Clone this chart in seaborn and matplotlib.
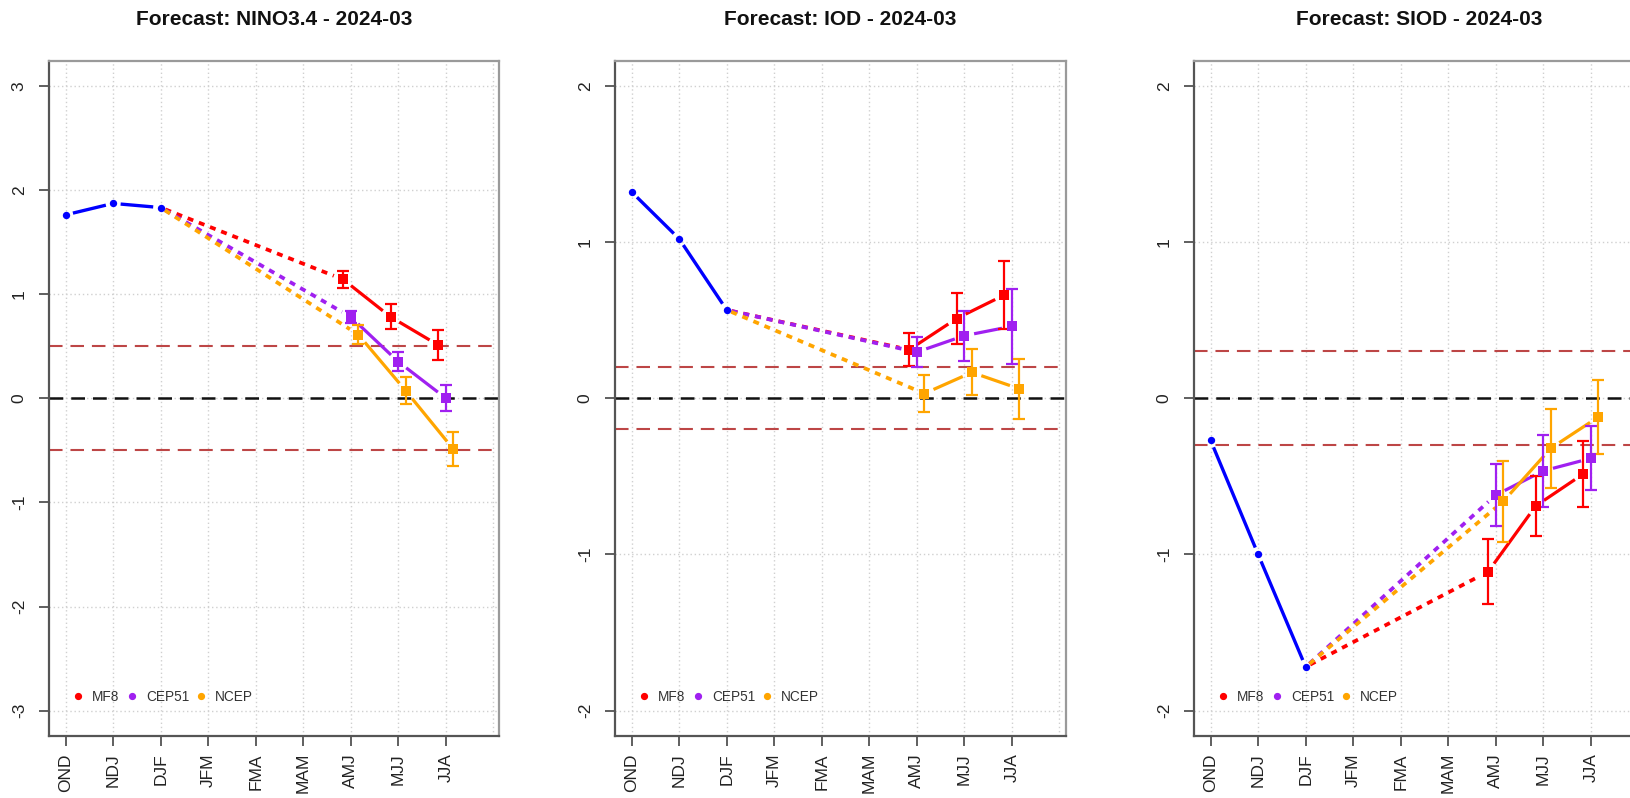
import numpy as np
import pandas as pd
import matplotlib
matplotlib.use("Agg")
import matplotlib.pyplot as plt
from matplotlib.lines import Line2D
import seaborn as sns

# ---- data ---------------------------------------------------------------
seasons = ["OND", "NDJ", "DJF", "JFM", "FMA", "MAM", "AMJ", "MJJ", "JJA"]
obs_seasons = ["OND", "NDJ", "DJF"]
fc_seasons = ["AMJ", "MJJ", "JJA"]
models = ["MF8", "CEP51", "NCEP"]

# NINO3.4
nino_obs = [1.76, 1.87, 1.83]
nino_mf8 = [1.14, 0.78, 0.51]
nino_mf8_err = [0.08, 0.12, 0.145]
nino_cep51 = [0.78, 0.35, 0.00]
nino_cep51_err = [0.06, 0.09, 0.125]
nino_ncep = [0.61, 0.07, -0.49]
nino_ncep_err = [0.09, 0.13, 0.165]
nino_threshold = 0.5

# IOD
iod_obs = [1.32, 1.02, 0.565]
iod_mf8 = [0.31, 0.51, 0.66]
iod_mf8_err = [0.105, 0.165, 0.215]
iod_cep51 = [0.295, 0.40, 0.46]
iod_cep51_err = [0.095, 0.16, 0.24]
iod_ncep = [0.03, 0.165, 0.06]
iod_ncep_err = [0.117, 0.147, 0.193]
iod_threshold = 0.2

# SIOD
siod_obs = [-0.27, -1.00, -1.72]
siod_mf8 = [-1.11, -0.69, -0.485]
siod_mf8_err = [0.21, 0.19, 0.21]
siod_cep51 = [-0.62, -0.465, -0.385]
siod_cep51_err = [0.20, 0.23, 0.204]
siod_ncep = [-0.66, -0.32, -0.12]
siod_ncep_err = [0.26, 0.253, 0.237]
siod_threshold = 0.3

titles = ["Forecast: NINO3.4 - 2024-03", "Forecast: IOD - 2024-03", "Forecast: SIOD - 2024-03"]

# ---- style --------------------------------------------------------------
sns.set_style("white")
plt.rcParams["font.family"] = ["Liberation Sans", "DejaVu Sans"]

OBS_COLOR = "#0000FF"
MODEL_COLORS = {"MF8": "#FF0000", "CEP51": "#A020F0", "NCEP": "#FFA500"}
MODEL_SHIFT = {"MF8": -0.16, "CEP51": 0.0, "NCEP": 0.16}
THRESH_COLOR = "#BD4646"
GRID_COLOR = "#D0D0D0"

panels = [
    dict(title=titles[0], obs=nino_obs, thr=nino_threshold, ylim=3.24, yticks=range(-3, 4),
         fc={"MF8": (nino_mf8, nino_mf8_err), "CEP51": (nino_cep51, nino_cep51_err),
             "NCEP": (nino_ncep, nino_ncep_err)}),
    dict(title=titles[1], obs=iod_obs, thr=iod_threshold, ylim=2.16, yticks=range(-2, 3),
         fc={"MF8": (iod_mf8, iod_mf8_err), "CEP51": (iod_cep51, iod_cep51_err),
             "NCEP": (iod_ncep, iod_ncep_err)}),
    dict(title=titles[2], obs=siod_obs, thr=siod_threshold, ylim=2.16, yticks=range(-2, 3),
         fc={"MF8": (siod_mf8, siod_mf8_err), "CEP51": (siod_cep51, siod_cep51_err),
             "NCEP": (siod_ncep, siod_ncep_err)}),
]

fig = plt.figure(figsize=(16.31, 7.98), dpi=100)
lefts = [49 / 1631, 615 / 1631, 1194 / 1631]
ax_w, ax_b, ax_h = 450.5 / 1631, 62.3 / 798, 675 / 798

pos = {s: i for i, s in enumerate(seasons)}


def gap_segment(ax, x0, y0, x1, y1, g0, g1, **kw):
    """Draw a segment shortened by g0/g1 pixels at its ends (R type='b' look)."""
    p0 = ax.transData.transform((x0, y0))
    p1 = ax.transData.transform((x1, y1))
    d = p1 - p0
    L = np.hypot(*d)
    if L <= g0 + g1:
        return
    u = d / L
    inv = ax.transData.inverted()
    a = inv.transform(p0 + u * g0)
    b = inv.transform(p1 - u * g1)
    ax.plot([a[0], b[0]], [a[1], b[1]], solid_capstyle="butt", dash_capstyle="butt", **kw)


for k, p in enumerate(panels):
    ax = fig.add_axes([lefts[k], ax_b, ax_w, ax_h])
    ax.set_xlim(-0.35, 9.13)
    ax.set_ylim(-p["ylim"], p["ylim"])

    # grid
    for gx in range(10):
        ax.axvline(gx, color=GRID_COLOR, lw=1.0, ls=(0, (1, 2)), zorder=0)
    for gy in p["yticks"]:
        ax.axhline(gy, color=GRID_COLOR, lw=1.0, ls=(0, (1, 2)), zorder=0)

    # reference lines
    ax.axhline(0, color="#111111", lw=1.8, ls=(0, (5.5, 3.2)), zorder=1)
    ax.axhline(p["thr"], color=THRESH_COLOR, lw=1.5, ls=(0, (6.5, 3.8)), zorder=1)
    ax.axhline(-p["thr"], color=THRESH_COLOR, lw=1.5, ls=(0, (6.5, 3.8)), zorder=1)

    # observed
    obs_df = pd.DataFrame({"x": [pos[s] for s in obs_seasons], "y": p["obs"]})
    for i in range(len(obs_df) - 1):
        gap_segment(ax, obs_df.x[i], obs_df.y[i], obs_df.x[i + 1], obs_df.y[i + 1], 7.5, 7.5,
                    color=OBS_COLOR, lw=2.4, zorder=3)
    sns.scatterplot(data=obs_df, x="x", y="y", color=OBS_COLOR, marker="o", s=28,
                    linewidth=0, ax=ax, zorder=4, legend=False)

    x_last, y_last = obs_df.x.iloc[-1], obs_df.y.iloc[-1]

    # forecasts
    for m in models:
        vals, errs = p["fc"][m]
        c = MODEL_COLORS[m]
        fx = [pos[s] + MODEL_SHIFT[m] for s in fc_seasons]
        gap_segment(ax, x_last, y_last, fx[0], vals[0], 5, 10,
                    color=c, lw=2.7, ls=(0, (1.6, 1.6)), zorder=2)
        for i in range(len(fx) - 1):
            gap_segment(ax, fx[i], vals[i], fx[i + 1], vals[i + 1], 10, 10,
                        color=c, lw=2.3, zorder=3)
        ax.errorbar(fx, vals, yerr=errs, fmt="none", ecolor=c, elinewidth=1.6,
                    capsize=4.5, capthick=1.6, zorder=4)
        fdf = pd.DataFrame({"x": fx, "y": vals})
        sns.scatterplot(data=fdf, x="x", y="y", color=c, marker="s", s=58,
                        linewidth=0, ax=ax, zorder=5, legend=False)

    # axes dressing
    ax.set_xticks(range(len(seasons)))
    ax.set_xticklabels(seasons, rotation=90)
    ax.set_yticks(list(p["yticks"]))
    ax.set_yticklabels([str(v) for v in p["yticks"]])
    ax.set_xlabel("")
    ax.set_ylabel("")
    ax.tick_params(axis="x", direction="out", length=7.5, width=1.2, color="#444444",
                   pad=5, labelsize=12.5, labelcolor="#222222", bottom=True)
    ax.tick_params(axis="y", direction="out", length=7.5, width=1.2, color="#444444",
                   pad=8.5, labelsize=12.5, labelcolor="#222222", labelrotation=90, left=True)
    for lab in ax.get_yticklabels():
        lab.set_verticalalignment("center")
    for side in ["left", "bottom"]:
        ax.spines[side].set_color("#555555")
        ax.spines[side].set_linewidth(1.6)
    for side in ["top", "right"]:
        ax.spines[side].set_color("#9A9A9A")
        ax.spines[side].set_linewidth(1.6)

    ax.set_title(p["title"], fontsize=15, fontweight="bold", pad=25.7, color="#111111")

    handles = [Line2D([0], [0], color=MODEL_COLORS[m], marker="o", ms=4.2, ls="none")
               for m in models]
    leg = ax.legend(handles, models, loc="center left", bbox_to_anchor=(0.0564, 0.058),
                    ncol=3, frameon=False, fontsize=9.8, handlelength=0.6,
                    handletextpad=0.72, columnspacing=0.6, borderpad=0, borderaxespad=0)
    for t in leg.get_texts():
        t.set_color("#333333")

fig.savefig("out.png", dpi=100)
